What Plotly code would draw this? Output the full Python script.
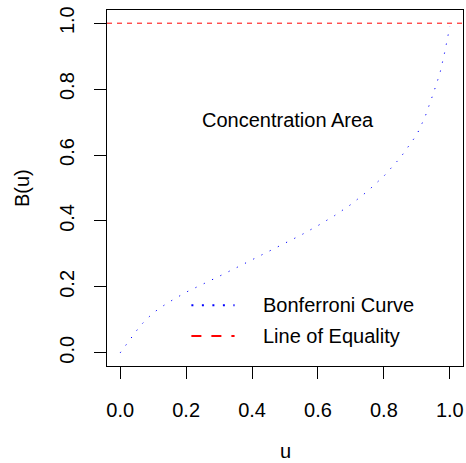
import plotly.graph_objects as go

# ---- data ----
u_vals = [0.0, 0.02, 0.04, 0.06, 0.08, 0.10, 0.125, 0.15, 0.20, 0.25, 0.30, 0.35,
          0.40, 0.45, 0.50, 0.55, 0.60, 0.65, 0.70, 0.75, 0.80, 0.85, 0.90, 0.925,
          0.95, 0.97, 0.985, 1.0]
b_vals = [0.0, 0.026, 0.053, 0.081, 0.102, 0.121, 0.139, 0.155, 0.184, 0.207, 0.232, 0.257,
          0.282, 0.307, 0.332, 0.358, 0.386, 0.416, 0.450, 0.490, 0.536, 0.592, 0.662, 0.716,
          0.787, 0.848, 0.914, 0.99]
equality_level = 1.0
tick_vals = [0.0, 0.2, 0.4, 0.6, 0.8, 1.0]
tick_text = ["0.0", "0.2", "0.4", "0.6", "0.8", "1.0"]
legend_labels = ["Bonferroni Curve", "Line of Equality"]
area_label = "Concentration Area"

FONT = "Liberation Sans, Arial, sans-serif"
FS = 20

fig = go.Figure()
fig.add_trace(go.Scatter(
    x=u_vals, y=b_vals, mode="lines",
    line=dict(color="#0000FF", width=1, dash="1.2px,8px"),
    showlegend=False, hoverinfo="skip"))

fig.add_hline(y=equality_level, line=dict(color="#FF0000", width=1, dash="5px,5px"))

# text inside plot
fig.add_annotation(x=0.51, y=0.706, xref="x", yref="y", text=area_label,
                   showarrow=False, font=dict(family=FONT, size=FS, color="black"),
                   xanchor="center", yanchor="middle")

# manual legend (no box)
leg_x0, leg_x1, leg_tx = 0.216, 0.347, 0.428
leg_y = [0.1446, 0.051]
leg_styles = [dict(color="#0000FF", width=2, dash="2px,8.5px"),
              dict(color="#FF0000", width=2, dash="10px,10px")]
for lab, yy, st in zip(legend_labels, leg_y, leg_styles):
    fig.add_shape(type="line", xref="x", yref="y", x0=leg_x0, x1=leg_x1, y0=yy, y1=yy,
                  line=st)
    fig.add_annotation(x=leg_tx, y=yy, xref="x", yref="y", text=lab, showarrow=False,
                       font=dict(family=FONT, size=FS, color="black"),
                       xanchor="left", yanchor="middle")

# axis titles
fig.add_annotation(x=0.5, y=0, xref="paper", yref="paper", text="u", showarrow=False,
                   font=dict(family=FONT, size=FS, color="black"),
                   xanchor="center", yanchor="middle", yshift=-85)
fig.add_annotation(x=0, y=0.5, xref="paper", yref="paper", text="B(u)", showarrow=False,
                   font=dict(family=FONT, size=FS, color="black"), textangle=-90,
                   xanchor="center", yanchor="middle", xshift=-85)

axis_common = dict(
    tickvals=tick_vals, ticktext=tick_text, ticks="outside", ticklen=12, tickwidth=1,
    tickcolor="black", showline=True, linecolor="black", linewidth=1, mirror=True,
    showgrid=False, zeroline=False,
    tickfont=dict(family=FONT, size=FS, color="black"),
)
fig.update_xaxes(range=[-0.04, 1.04], ticklabelstandoff=14, **axis_common)
fig.update_yaxes(range=[-0.04, 1.04], tickangle=-90, ticklabelstandoff=12, **axis_common)

fig.update_layout(
    width=466, height=463,
    margin=dict(l=107, r=3, t=10, b=97),
    paper_bgcolor="white", plot_bgcolor="white",
    showlegend=False,
)

fig.write_html("out.html")
